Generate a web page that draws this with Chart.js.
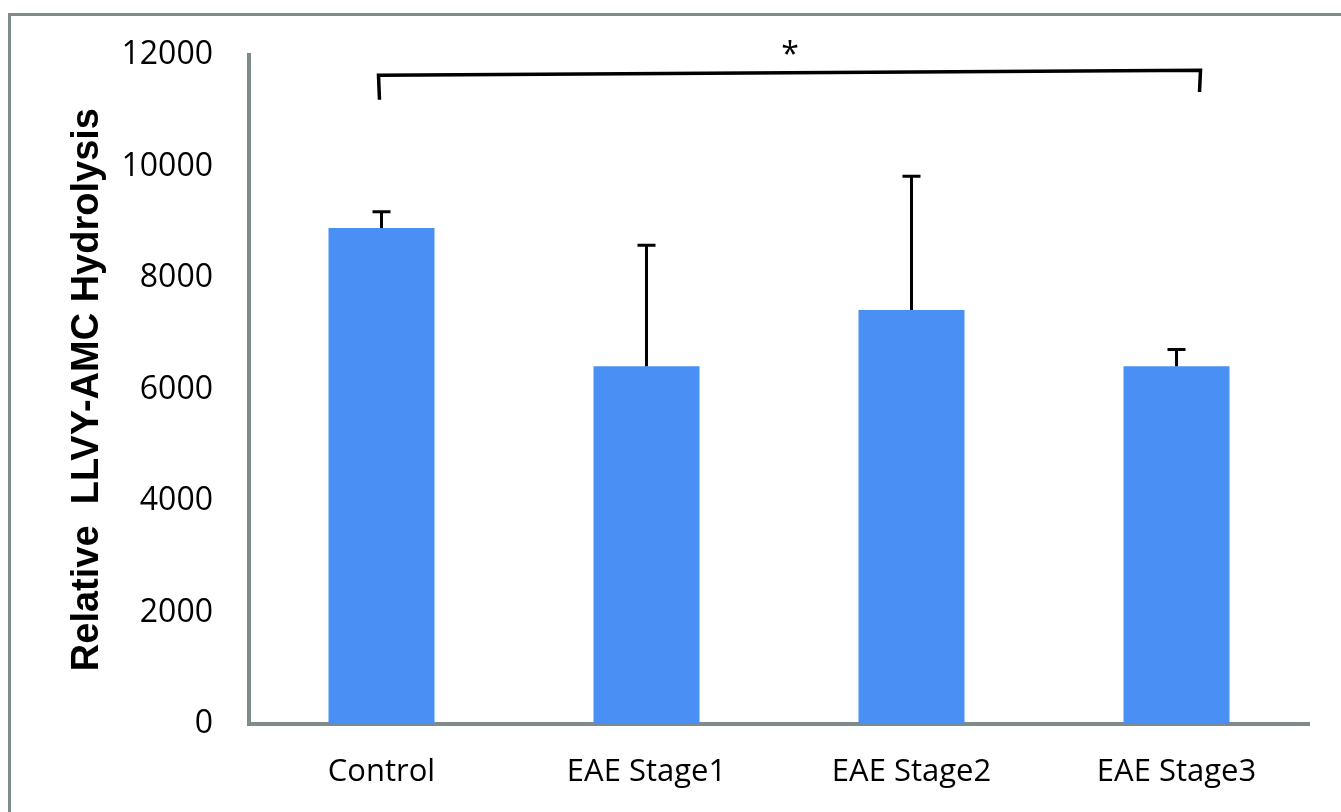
<!DOCTYPE html>
<html>
<head>
<meta charset="utf-8">
<script src="https://cdn.jsdelivr.net/npm/chart.js@4/dist/chart.umd.min.js"></script>
<style>
  html,body{margin:0;padding:0;background:#fff;}
  #wrap{position:relative;width:1341px;height:812px;}
</style>
</head>
<body>
<div id="wrap"><canvas id="c" width="1341" height="812"></canvas></div>
<script>
const categories = ["Control", "EAE Stage1", "EAE Stage2", "EAE Stage3"];
const meanValues = [8900, 6420, 7430, 6420];
const errorValues = [290, 2170, 2400, 300];
const yTicks = [0, 2000, 4000, 6000, 8000, 10000, 12000];
const yTitle = "Relative  LLVY-AMC Hydrolysis";
const bracketFrom = 0, bracketTo = 3;
const bracketTop = [11640, 11730];      // left end, right end of horizontal line
const bracketLegBottom = [11200, 11340]; // left leg, right leg
const sigLabel = "*";

const axisColor = "#7f8b8b";

const framePlugin = {
  id: "frame",
  beforeDraw(chart) {
    const ctx = chart.ctx;
    ctx.save();
    ctx.fillStyle = "#fff";
    ctx.fillRect(0, 0, chart.width, chart.height);
    ctx.strokeStyle = "#7f8b8b";
    ctx.lineWidth = 3;
    ctx.strokeRect(9.5, 14.5, 1400, 900);
    ctx.restore();
  }
};

const errorPlugin = {
  id: "errs",
  afterDatasetsDraw(chart) {
    const ctx = chart.ctx, x = chart.scales.x, y = chart.scales.y;
    ctx.save();
    ctx.strokeStyle = "#000";
    ctx.lineWidth = 3;
    meanValues.forEach((v, i) => {
      const px = x.getPixelForValue(i);
      const top = y.getPixelForValue(v + errorValues[i]);
      const base = y.getPixelForValue(v);
      ctx.beginPath();
      ctx.moveTo(px, base);
      ctx.lineTo(px, top);
      ctx.moveTo(px - 9, top);
      ctx.lineTo(px + 9, top);
      ctx.stroke();
    });
    // significance bracket
    const xl = x.getPixelForValue(bracketFrom) - 2;
    const xr = x.getPixelForValue(bracketTo) + 24;
    ctx.lineWidth = 3.5;
    ctx.lineJoin = "miter";
    ctx.beginPath();
    ctx.moveTo(xl, y.getPixelForValue(bracketLegBottom[0]));
    ctx.lineTo(xl - 1, y.getPixelForValue(bracketTop[0]));
    ctx.lineTo(xr, y.getPixelForValue(bracketTop[1]));
    ctx.lineTo(xr - 1, y.getPixelForValue(bracketLegBottom[1]));
    ctx.stroke();
    ctx.fillStyle = "#000";
    ctx.font = "32px 'Open Sans'";
    ctx.textAlign = "center";
    ctx.textBaseline = "middle";
    ctx.fillText(sigLabel, (xl + xr) / 2, y.getPixelForValue(bracketTop[1]) - 14);
    ctx.restore();
  }
};

new Chart(document.getElementById("c"), {
  type: "bar",
  data: {
    labels: categories,
    datasets: [{
      data: meanValues,
      backgroundColor: "#4a90f4",
      borderWidth: 0,
      barPercentage: 0.4,
      categoryPercentage: 1.0
    }]
  },
  options: {
    responsive: false,
    animation: false,
    devicePixelRatio: 1,
    layout: { padding: { top: 55, right: 32, left: 0, bottom: 0 } },
    plugins: { legend: { display: false }, tooltip: { enabled: false } },
    scales: {
      x: {
        grid: { display: true, color: "transparent", drawOnChartArea: false, drawTicks: false },
        border: { display: true, color: axisColor, width: 4 },
        ticks: { color: "#000", font: { family: "'Open Sans'", size: 31 }, padding: 30 },
        afterFit(s) { s.height = 812 - 724; }
      },
      y: {
        min: 0, max: 12000,
        afterBuildTicks(s) { s.ticks = yTicks.map(v => ({ value: v })); },
        grid: { display: true, color: "transparent", drawOnChartArea: false, drawTicks: false },
        border: { display: true, color: axisColor, width: 4 },
        ticks: { color: "#000", font: { family: "'Open Sans'", size: 32 }, padding: 36,
                 callback: v => String(v) },
        title: {
          display: true, text: yTitle, color: "#000",
          font: { family: "'Liberation Sans'", size: 38, weight: "bold" },
          padding: { top: 65, bottom: 0 }
        },
        afterFit(s) { s.width = 249; }
      }
    }
  },
  plugins: [framePlugin, errorPlugin]
});
</script>
</body>
</html>
